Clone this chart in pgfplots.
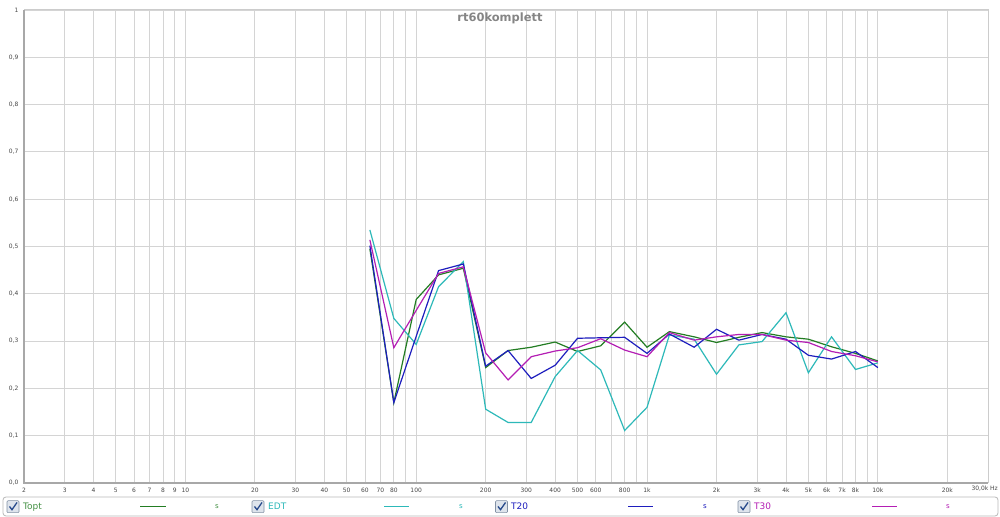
\documentclass[border=0pt]{standalone}
\usepackage{fontspec}
\setmainfont{DejaVu Sans}
\usepackage{pgfplots}
\pgfplotsset{compat=1.18}
\definecolor{cTopt}{RGB}{35,125,35}
\definecolor{cEDT}{RGB}{45,185,185}
\definecolor{cTtw}{RGB}{30,30,190}
\definecolor{cTth}{RGB}{180,30,180}
\definecolor{gridc}{RGB}{212,212,212}
\definecolor{framec}{RGB}{168,168,168}
\definecolor{cbfill}{RGB}{222,228,236}
\definecolor{cbdraw}{RGB}{130,145,165}
\definecolor{cbcheck}{RGB}{40,75,140}
\newcommand{\cbox}[1]{%
  \filldraw[fill=cbfill,draw=cbdraw,line width=0.6bp,rounded corners=1bp] (#1-6,4.3) rectangle (#1+6,16.3);
  \draw[cbcheck,line width=1.3bp] (#1-3.5,10.5) -- (#1-1,7.3) -- (#1+4,14.5);}
\begin{document}
\begin{tikzpicture}[x=1bp,y=1bp]
\useasboundingbox (0,0) rectangle (1000,517);
\fill[white] (0,0) rectangle (1000,517);
\begin{axis}[
  name=ax,
  at={(24bp,34bp)}, anchor=south west,
  scale only axis, width=964bp, height=473bp,
  xmode=log, xmin=2, xmax=30000, ymin=0, ymax=1,
  xtick={2,3,4,5,6,7,8,9,10,20,30,40,50,60,70,80,90,100,200,300,400,500,600,700,800,900,1000,2000,3000,4000,5000,6000,7000,8000,9000,10000,20000},
  xticklabels={2,3,4,5,6,7,8,9,10,20,30,40,50,60,70,80,{},100,200,300,400,500,600,{},800,{},1k,2k,3k,4k,5k,6k,7k,8k,{},10k,20k},
  ytick={0,0.1,0.2,0.3,0.4,0.5,0.6,0.7,0.8,0.9,1},
  yticklabels={{0,0},{0,1},{0,2},{0,3},{0,4},{0,5},{0,6},{0,7},{0,8},{0,9},1},
  grid=major,
  major grid style={draw=gridc, line width=0.8bp},
  axis line style={draw=none},
  major tick length=0pt,
  tick style={draw=none},
  tick label style={font=\fontsize{6}{6}\selectfont, text=black!72},
  xticklabel style={yshift=-1.5bp},
  yticklabel style={xshift=-2bp},
  every axis plot/.append style={line width=1.2bp, no markers},
]
\addplot[cTopt] coordinates {(63,0.495) (80,0.170) (100,0.388) (125,0.440) (160,0.454) (200,0.244) (250,0.280) (315,0.287) (400,0.298) (500,0.278) (630,0.290) (800,0.340) (1000,0.287) (1250,0.320) (1600,0.309) (2000,0.297) (2500,0.308) (3150,0.318) (4000,0.309) (5000,0.304) (6300,0.288) (8000,0.274) (10000,0.258)};
\addplot[cEDT] coordinates {(63,0.535) (80,0.348) (100,0.293) (125,0.415) (160,0.468) (200,0.156) (250,0.128) (315,0.128) (400,0.225) (500,0.280) (630,0.239) (800,0.111) (1000,0.160) (1250,0.313) (1600,0.304) (2000,0.230) (2500,0.292) (3150,0.299) (4000,0.360) (5000,0.233) (6300,0.309) (8000,0.240) (10000,0.254)};
\addplot[cTtw] coordinates {(63,0.502) (80,0.170) (100,0.310) (125,0.449) (160,0.463) (200,0.247) (250,0.280) (315,0.221) (400,0.249) (500,0.306) (630,0.307) (800,0.308) (1000,0.274) (1250,0.315) (1600,0.287) (2000,0.325) (2500,0.302) (3150,0.314) (4000,0.304) (5000,0.270) (6300,0.262) (8000,0.278) (10000,0.244)};
\addplot[cTth] coordinates {(63,0.514) (80,0.286) (100,0.365) (125,0.443) (160,0.457) (200,0.275) (250,0.218) (315,0.267) (400,0.279) (500,0.286) (630,0.305) (800,0.281) (1000,0.267) (1250,0.318) (1600,0.302) (2000,0.309) (2500,0.314) (3150,0.314) (4000,0.302) (5000,0.297) (6300,0.278) (8000,0.269) (10000,0.256)};
\end{axis}
% frame
\draw[draw=gridc!80!black!60, line width=1bp] (ax.north west) -- (ax.north east) -- (ax.south east);
\draw[draw=framec, line width=2.5bp] (ax.north west) -- (ax.south west) -- (ax.south east);
% title
\node[font=\fontsize{11.5}{12}\selectfont\bfseries, text=black!48] at (500,499) {rt60komplett};
% x unit label
\node[anchor=east, font=\fontsize{6}{6}\selectfont, text=black!72, inner sep=0pt] at (998,28) {30,0k Hz};
% legend
\draw[draw=framec!80, line width=0.8bp, rounded corners=3bp] (3,1) rectangle (998,20);
\cbox{13}
\node[anchor=west, inner sep=0pt, text=cTopt!85!white, font=\fontsize{9}{9}\selectfont] at (23,10.3) {Topt};
\draw[cTopt, line width=1.4bp] (140,10.3) -- (166,10.3);
\node[text=cTopt!85!white, font=\fontsize{7}{7}\selectfont] at (217,10.3) {s};
\cbox{258}
\node[anchor=west, inner sep=0pt, text=cEDT, font=\fontsize{9}{9}\selectfont] at (268,10.3) {EDT};
\draw[cEDT, line width=1.4bp] (384,10.3) -- (409,10.3);
\node[text=cEDT, font=\fontsize{7}{7}\selectfont] at (461,10.3) {s};
\cbox{501.5}
\node[anchor=west, inner sep=0pt, text=cTtw, font=\fontsize{9}{9}\selectfont] at (511,10.3) {T20};
\draw[cTtw, line width=1.4bp] (628,10.3) -- (653,10.3);
\node[text=cTtw, font=\fontsize{7}{7}\selectfont] at (705,10.3) {s};
\cbox{744}
\node[anchor=west, inner sep=0pt, text=cTth, font=\fontsize{9}{9}\selectfont] at (754,10.3) {T30};
\draw[cTth, line width=1.4bp] (872,10.3) -- (897,10.3);
\node[text=cTth, font=\fontsize{7}{7}\selectfont] at (948,10.3) {s};
\end{tikzpicture}
\end{document}
